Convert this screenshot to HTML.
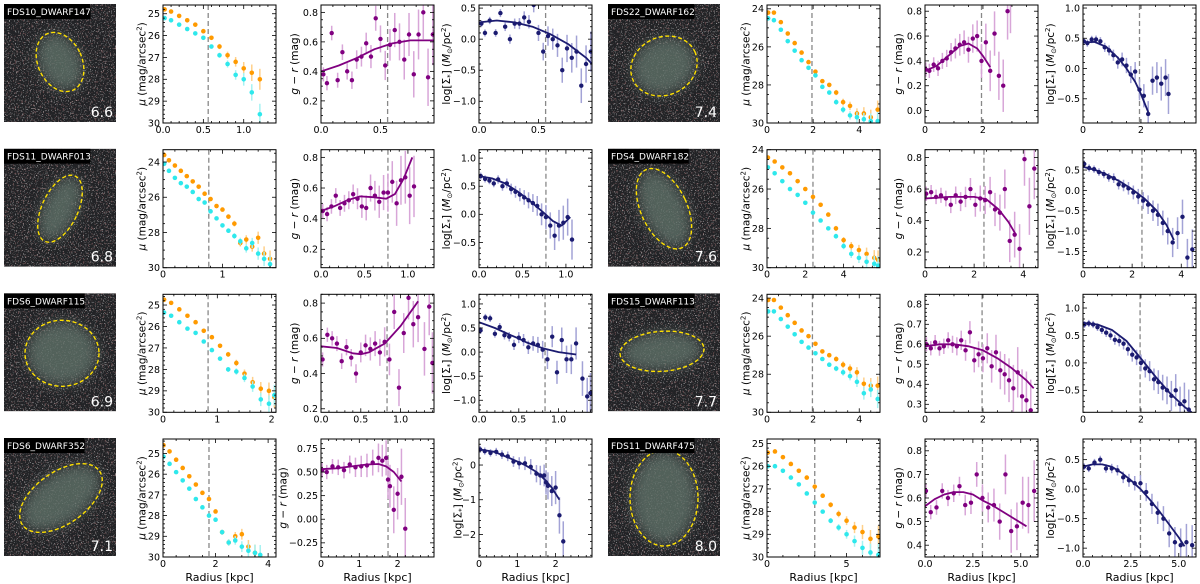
<!DOCTYPE html>
<html><head><meta charset="utf-8">
<style>
html,body{margin:0;padding:0;background:#fff;}
svg{display:block;}
text{font-family:"DejaVu Sans","Liberation Sans",sans-serif;}
</style></head>
<body>
<svg id="fig" xmlns="http://www.w3.org/2000/svg" width="1200" height="584" viewBox="0 0 1200 584">
<defs>
<filter id="noise" x="0" y="0" width="100%" height="100%">
<feTurbulence type="fractalNoise" baseFrequency="0.85" numOctaves="1" seed="3" result="t"/>
<feColorMatrix type="matrix" values="0 0 0 0 0.8  0 0 0 0 0.8  0 0 0 0 0.8  14 0 0 0 -8.6" in="t"/>
</filter>
<filter id="noise2" x="0" y="0" width="100%" height="100%">
<feTurbulence type="fractalNoise" baseFrequency="0.6" numOctaves="1" seed="7" result="t"/>
<feColorMatrix type="matrix" values="0 0 0 0 0.45  0 0 0 0 0.2  0 0 0 0 0.2  10 0 0 0 -6" in="t"/>
</filter>
<filter id="blur" x="-50%" y="-50%" width="200%" height="200%"><feGaussianBlur stdDeviation="6"/></filter>
</defs>
</svg>
<script>
const names=["FDS10_DWARF147","FDS11_DWARF013","FDS6_DWARF115","FDS6_DWARF352","FDS22_DWARF162","FDS4_DWARF182","FDS15_DWARF113","FDS11_DWARF475"];
const masses=["6.6","6.8","6.9","7.1","7.4","7.6","7.7","8.0"];
const rLimit=[0.56,0.77,0.83,1.75,1.95,2.4,1.97,3.0];
const muXMax=[1.4,1.9,2.08,4.3,4.9,5.9,4.9,7.1];
const muYTop=[24.6,23.3,24.5,24.3,23.8,24.0,23.8,24.8];
const muXTicks=[["0.0","0.5","1.0"],["0","1"],["0","1","2"],["0","2","4"],["0","2","4"],["0","2","4"],["0","2","4"],["0","5"]];
const muYTicks=[["25","26","27","28","29","30"],["24","26","28","30"],["25","26","27","28","29","30"],["25","26","27","28","29","30"],["24","26","28","30"],["24","26","28","30"],["24","26","28","30"],["25","26","27","28","29","30"]];
const prXMax=[0.95,1.3,1.42,2.95,3.9,4.6,3.9,5.9];
const prXTicks=[["0.0","0.5"],["0.0","0.5","1.0"],["0.0","0.5","1.0"],["0","1","2"],["0","2"],["0","2","4"],["0","2"],["0.0","2.5","5.0"]];
const grYRange=[[0.05,0.85],[0.08,0.85],[0.18,0.85],[-0.4,0.85],[-0.1,0.85],[0.1,0.85],[0.26,0.85],[0.35,0.85]];
const grYTicks=[["0.2","0.4","0.6","0.8"],["0.2","0.4","0.6","0.8"],["0.2","0.4","0.6","0.8"],["−0.25","0.00","0.25","0.50","0.75"],["0.0","0.2","0.4","0.6","0.8"],["0.2","0.4","0.6","0.8"],["0.3","0.4","0.5","0.6","0.7","0.8"],["0.4","0.5","0.6","0.7","0.8"]];
const sgYRange=[[-1.35,0.55],[-0.95,1.15],[-1.25,1.2],[-2.65,0.75],[-0.9,1.05],[-1.9,1.0],[-0.9,1.25],[-1.15,0.85]];
const sgYTicks=[["−1.0","−0.5","0.0","0.5"],["−0.5","0.0","0.5","1.0"],["−1.0","−0.5","0.0","0.5","1.0"],["−2","−1","0"],["−0.5","0.0","0.5","1.0"],["−1.5","−1.0","−0.5","0.0","0.5"],["−0.5","0.0","0.5","1.0"],["−1.0","−0.5","0.0","0.5"]];

const muR=[
[0.02,0.1,0.2,0.3,0.4,0.5,0.6,0.7,0.8,0.9,1.0,1.1,1.2],
[0.02,0.1,0.2,0.3,0.4,0.5,0.6,0.7,0.8,0.9,1.0,1.1,1.2,1.3,1.4,1.5,1.6,1.7,1.8],
[0.02,0.15,0.3,0.45,0.6,0.75,0.9,1.05,1.2,1.35,1.5,1.65,1.8,1.95,2.05],
[0.02,0.25,0.5,0.75,1.0,1.25,1.5,1.75,2.0,2.25,2.5,2.75,3.0,3.25,3.5,3.7],
[0.05,0.3,0.6,0.9,1.2,1.5,1.8,2.1,2.4,2.7,3.0,3.3,3.6,3.9,4.2,4.5,4.8],
[0.05,0.4,0.8,1.2,1.6,2.0,2.4,2.8,3.2,3.6,4.0,4.4,4.8,5.2,5.6,5.8],
[0.05,0.3,0.6,0.9,1.2,1.5,1.8,2.1,2.4,2.7,3.0,3.3,3.6,3.9,4.2,4.5,4.8],
[0.05,0.5,1.0,1.5,2.0,2.5,3.0,3.5,4.0,4.5,5.0,5.5,6.0,6.5,7.0]];
const muOrange=[
[24.8,24.9,25.1,25.3,25.5,25.8,26.1,26.5,26.9,27.2,27.5,27.7,28.0],
[23.6,23.9,24.2,24.5,24.8,25.1,25.4,25.8,26.1,26.5,26.7,27.1,27.5,28.6,28.4,28.8,28.3,29.2,29.5],
[24.75,24.9,25.2,25.5,25.8,26.2,26.5,26.9,27.3,27.7,28.2,28.6,28.9,29.0,29.3],
[24.6,24.9,25.3,25.7,26.1,26.5,26.9,27.2,27.8,28.8,29.3,29.0,28.9,29.5,29.8,30.0],
[24.2,24.2,24.7,25.3,25.8,26.3,26.8,27.3,27.8,28.0,28.4,28.9,29.1,29.5,29.5,29.7,29.3],
[24.4,24.6,24.9,25.2,25.6,26.0,26.4,26.8,27.3,28.0,28.6,28.9,29.1,29.3,29.5,29.6],
[24.1,24.1,24.5,24.9,25.3,25.7,26.0,26.4,26.8,27.0,27.2,27.5,27.7,27.9,28.5,28.6,28.6],
[25.4,25.35,25.6,25.9,26.2,26.5,26.9,27.3,27.7,28.1,28.4,28.7,28.9,29.2,29.1]];
const muCyan=[
[25.2,25.3,25.5,25.7,25.9,26.1,26.5,26.9,27.3,27.8,28.0,28.6,29.6],
[24.1,24.5,24.9,25.2,25.4,25.7,26.1,26.3,26.8,27.2,27.6,27.9,28.2,28.5,28.9,28.6,29.2,29.5,29.8],
[25.35,25.5,25.8,26.1,26.3,26.7,27.1,27.5,28.0,28.1,28.4,28.8,29.4,29.6,29.2],
[25.15,25.5,25.9,26.3,26.7,27.2,27.6,28.0,28.2,28.8,29.3,29.2,29.5,29.7,29.8,29.9],
[24.5,24.6,25.1,25.7,26.2,26.7,27.1,27.5,28.1,28.4,28.9,29.3,29.6,29.7,29.8,29.9,29.9],
[24.9,25.2,25.6,26.0,26.3,26.7,27.2,27.6,28.0,28.4,28.9,29.3,29.5,29.7,29.8,29.9],
[24.7,24.7,25.1,25.5,25.9,26.3,26.6,26.9,27.2,27.5,27.7,27.9,28.1,28.4,29.0,28.8,29.3],
[26.0,26.0,26.2,26.5,26.8,27.2,27.6,28.0,28.4,28.7,29.0,29.3,29.6,29.8,29.9]];

const prR=[
[0.02,0.05,0.09,0.14,0.18,0.22,0.26,0.3,0.34,0.38,0.42,0.46,0.5,0.54,0.58,0.62,0.66,0.7,0.74,0.78,0.82,0.86,0.9,0.94],
[0.02,0.07,0.12,0.17,0.22,0.27,0.32,0.37,0.42,0.47,0.52,0.57,0.62,0.67,0.72,0.77,0.82,0.87,0.92,0.97,1.02,1.07],
[0.02,0.08,0.14,0.2,0.26,0.32,0.38,0.44,0.5,0.56,0.62,0.68,0.74,0.8,0.86,0.92,0.98,1.04,1.1,1.16,1.22,1.3,1.36,1.4],
[0.03,0.15,0.3,0.45,0.6,0.75,0.9,1.05,1.2,1.35,1.5,1.6,1.7,1.75,1.8,1.9,2.0,2.1,2.2],
[0.03,0.15,0.3,0.45,0.6,0.75,0.9,1.05,1.2,1.35,1.5,1.65,1.8,1.95,2.1,2.25,2.4,2.55,2.7,2.85,2.95],
[0.05,0.25,0.45,0.65,0.85,1.05,1.25,1.45,1.65,1.85,2.05,2.25,2.45,2.65,2.85,3.05,3.25,3.45,3.65,3.85,4.05,4.25,4.45],
[0.05,0.2,0.35,0.5,0.65,0.8,0.95,1.1,1.25,1.4,1.55,1.7,1.85,2.0,2.15,2.3,2.45,2.6,2.75,2.9,3.05,3.2,3.35,3.5,3.65],
[0.05,0.3,0.6,0.9,1.2,1.5,1.8,2.1,2.4,2.7,3.0,3.3,3.6,3.9,4.2,4.5,4.8,5.1,5.4,5.7]];
const grVals=[
[0.38,0.32,0.66,0.34,0.53,0.40,0.34,0.48,0.50,0.59,0.50,0.76,0.62,0.44,0.58,0.68,0.60,0.48,0.65,0.38,0.65,0.80,0.36,0.65],
[0.45,0.43,0.48,0.55,0.47,0.50,0.52,0.56,0.53,0.48,0.47,0.60,0.55,0.51,0.57,0.57,0.64,0.50,0.65,0.67,0.55,0.61],
[0.48,0.62,0.60,0.57,0.47,0.55,0.49,0.40,0.52,0.56,0.54,0.57,0.52,0.58,0.48,0.75,0.32,0.63,0.83,0.68,0.72,0.54,0.78,0.46],
[0.52,0.50,0.56,0.55,0.52,0.58,0.55,0.56,0.57,0.60,0.65,0.62,0.65,0.42,0.35,0.10,0.27,0.45,-0.10],
[0.33,0.32,0.37,0.34,0.40,0.42,0.47,0.50,0.53,0.55,0.49,0.58,0.60,0.40,0.55,0.32,0.62,0.28,0.20,0.80,0.87],
[0.57,0.58,0.55,0.56,0.54,0.50,0.56,0.52,0.55,0.60,0.50,0.54,0.53,0.58,0.47,0.45,0.60,0.27,0.31,0.22,0.79,0.49,0.73],
[0.60,0.58,0.61,0.58,0.59,0.62,0.60,0.59,0.62,0.57,0.66,0.52,0.55,0.53,0.58,0.49,0.56,0.47,0.45,0.42,0.38,0.46,0.34,0.32,0.27],
[0.63,0.54,0.56,0.63,0.60,0.62,0.65,0.57,0.58,0.70,0.60,0.56,0.57,0.50,0.70,0.46,0.48,0.58,0.57,0.63]];
const sgVals=[
[0.25,0.1,0.3,0.1,0.42,0.2,0.0,0.25,0.25,0.35,0.28,0.55,0.1,-0.2,0.05,0.0,-0.1,-0.5,-0.15,-0.3,-0.2,-0.75,-0.4,-0.2],
[0.68,0.63,0.60,0.55,0.62,0.50,0.55,0.45,0.40,0.35,0.30,0.25,0.20,0.15,0.0,-0.05,-0.20,-0.38,-0.20,-0.15,-0.05,-0.45],
[0.45,0.72,0.70,0.38,0.52,0.35,0.32,0.15,0.30,0.25,0.10,0.18,0.15,0.05,-0.15,0.32,-0.42,0.25,-0.15,-0.15,0.18,-0.55,-0.92,-0.85],
[0.45,0.40,0.35,0.38,0.30,0.25,0.10,0.05,0.05,-0.05,-0.25,-0.30,-0.30,-0.50,-0.60,-0.75,-0.65,-1.45,-2.2],
[0.45,0.42,0.48,0.48,0.45,0.35,0.30,0.22,0.10,0.15,0.05,-0.10,-0.05,-0.35,-0.45,-0.75,-0.20,-0.15,-0.25,-0.15,-0.42],
[0.65,0.55,0.52,0.45,0.40,0.32,0.30,0.15,0.12,0.05,-0.05,-0.15,-0.25,-0.35,-0.50,-0.60,-0.80,-1.00,-1.28,-1.05,-0.65,-1.65,-1.45],
[0.70,0.72,0.70,0.65,0.60,0.55,0.50,0.42,0.40,0.35,0.25,0.15,0.10,0.0,-0.10,-0.15,-0.30,-0.35,-0.45,-0.50,-0.60,-0.50,-0.75,-0.70,-0.85],
[0.38,0.35,0.45,0.50,0.35,0.35,0.32,0.20,0.15,0.10,0.10,-0.05,-0.25,-0.40,-0.50,-0.75,-0.90,-0.95,-0.90,-0.95]];
const fitR=[
[0,0.15,0.3,0.45,0.6,0.75,0.9,0.95],
[0,0.15,0.3,0.45,0.6,0.75,0.85,0.95,1.05],
[0,0.2,0.4,0.5,0.6,0.8,1.0,1.22],
[0,0.4,0.8,1.2,1.5,1.7,1.9,2.1],
[0,0.4,0.8,1.2,1.5,1.8,2.0,2.25],
[0,0.5,1.0,1.5,2.0,2.5,3.0,3.4,3.7],
[0,0.5,1.0,1.5,2.0,2.5,3.0,3.5,3.75],
[0,0.5,1.0,1.5,2.0,2.5,3.0,3.5,4.0,4.5,5.0,5.3]];
const grFit=[
[0.40,0.44,0.49,0.55,0.59,0.61,0.61,0.61],
[0.45,0.48,0.52,0.545,0.54,0.53,0.56,0.66,0.80],
[0.555,0.545,0.515,0.51,0.52,0.57,0.67,0.81],
[0.53,0.54,0.56,0.58,0.585,0.56,0.50,0.40],
[0.32,0.36,0.44,0.52,0.54,0.50,0.44,0.35],
[0.54,0.545,0.55,0.55,0.55,0.535,0.47,0.39,0.31],
[0.59,0.60,0.60,0.59,0.57,0.53,0.48,0.42,0.38],
[0.565,0.595,0.615,0.625,0.625,0.615,0.59,0.57,0.545,0.52,0.495,0.48]];
const sgFit=[
[0.27,0.30,0.27,0.20,0.08,-0.08,-0.30,-0.40],
[0.68,0.64,0.55,0.40,0.22,0.02,-0.12,-0.20,-0.05],
[0.62,0.50,0.35,0.28,0.20,0.08,0.0,-0.05],
[0.45,0.38,0.20,0.0,-0.2,-0.40,-0.65,-1.0],
[0.43,0.44,0.36,0.18,0.0,-0.22,-0.42,-0.72],
[0.58,0.50,0.38,0.22,0.03,-0.20,-0.50,-0.85,-1.22],
[0.73,0.70,0.60,0.40,0.08,-0.25,-0.55,-0.80,-0.90],
[0.38,0.42,0.42,0.38,0.28,0.15,0.0,-0.18,-0.38,-0.60,-0.82,-0.97]];
const ellipses=[[56,58,22,31,-25],[56,60,18,36,25],[58,60,37,33,0],[57,60,47,26,-35],[56,62,34,29,-25],[56,60,23,43,-25],[54,58,42,20,-4],[56,60,34,48,0]];

const NS="http://www.w3.org/2000/svg";
const svg=document.getElementById('fig');
function mk(tag,attrs,name,parent){
  const el=document.createElementNS(NS,tag);
  for(const k in attrs) el.setAttribute(k,attrs[k]);
  
  
  (parent||svg).appendChild(el);
  return el;
}
const num=s=>parseFloat(s.replace('−','-'));
const rowTop=[5,149.7,294.3,439], PH=118, PW=113, IW=112;
let clipId=0;

function minorStep(step){
  const e=Math.pow(10,Math.floor(Math.log10(step)+1e-9));
  const m=Math.round(step/e*100)/100;
  return step/((m===2)?4:5);
}

function axes(g,px,py,xr,yr,xt,yt,showX,ylab){
  const sx=v=>px+(v-xr[0])/(xr[1]-xr[0])*PW;
  const sy=v=>py+(yr[1]-v)/(yr[1]-yr[0])*PH;
  const cid='c'+(clipId++);
  const cp=mk('clipPath',{id:cid},'clip',g);
  mk('rect',{x:px,y:py,width:PW,height:PH},'clip-rect',cp);
  const plot=mk('g',{'clip-path':'url(#'+cid+')'},'plot-area',g);
  const tg=mk('g',{stroke:'#000','stroke-width':0.8},'ticks',g);
  const xv=xt.map(num), yv=yt.map(num);
  const xs=xv.length>1?xv[1]-xv[0]:xv[0]||1, ys=yv[1]-yv[0];
  const xm=minorStep(xs), ym=minorStep(ys);
  for(let v=Math.ceil(xr[0]/xm)*xm; v<=xr[1]+1e-9; v+=xm){
    const X=sx(v); const major=xv.some(t=>Math.abs(t-v)<xm/3); const L=major?4:2;
    mk('line',{x1:X,y1:py+PH,x2:X,y2:py+PH-L},'x-tick',tg);
    mk('line',{x1:X,y1:py,x2:X,y2:py+L},'x-tick-top',tg);
  }
  const ylo=Math.min(yr[0],yr[1]), yhi=Math.max(yr[0],yr[1]);
  for(let v=Math.ceil(ylo/ym)*ym; v<=yhi+1e-9; v+=ym){
    const Y=sy(v); const major=yv.some(t=>Math.abs(t-v)<ym/3); const L=major?4:2;
    mk('line',{x1:px,y1:Y,x2:px+L,y2:Y},'y-tick',tg);
    mk('line',{x1:px+PW,y1:Y,x2:px+PW-L,y2:Y},'y-tick-right',tg);
  }
  xt.forEach(s=>{const t=mk('text',{x:sx(num(s)),y:py+PH+10,'font-size':9.5,'text-anchor':'middle'},'x-tick-label',g);t.textContent=s;});
  let mw=0;
  yt.forEach(s=>{const t=mk('text',{x:px-3,y:sy(num(s))+3.4,'font-size':9.5,'text-anchor':'end'},'y-tick-label',g);t.textContent=s;mw=Math.max(mw,s.length);});
  mk('rect',{x:px,y:py,width:PW,height:PH,fill:'none',stroke:'#000','stroke-width':1},'axes-frame',g);
  const lx=px-mw*5.7-6, ly=py+PH/2;
  const yl=mk('text',{x:lx,y:ly,'font-size':10.5,'text-anchor':'middle',transform:`rotate(-90 ${lx} ${ly})`},'y-axis-title',g);
  yl.innerHTML=ylab;
  if(showX){const t=mk('text',{x:px+PW/2,y:py+PH+24,'font-size':11,'text-anchor':'middle'},'x-axis-title',g);t.textContent='Radius [kpc]';}
  return {sx,sy,plot};
}

for(let i=0;i<8;i++){
  const col=Math.floor(i/4), row=i%4;
  const ox=col*604, py=rowTop[row];
  const G=mk('g',{},'galaxy-row-'+names[i].toLowerCase().replace('_','-'));
  const ix=4+ox, iy=py-1;
  const ig=mk('g',{},'galaxy-image',G);
  const icid='ic'+i;
  const icp=mk('clipPath',{id:icid},'image-clip',ig);
  mk('rect',{x:ix,y:iy,width:IW,height:PH},'image-clip-rect',icp);
  const inner=mk('g',{'clip-path':`url(#${icid})`},'image-content',ig);
  mk('rect',{x:ix,y:iy,width:IW,height:PH,fill:'#222326'},'sky-background',inner);
  mk('rect',{x:ix,y:iy,width:IW,height:PH,fill:'#000',filter:'url(#noise2)',opacity:0.5},'sky-red-noise',inner);
  mk('rect',{x:ix,y:iy,width:IW,height:PH,fill:'#000',filter:'url(#noise)',opacity:0.55},'sky-speckles',inner);
  const e=ellipses[i];
  mk('ellipse',{cx:ix+e[0],cy:iy+e[1],rx:e[2]*0.95,ry:e[3]*0.95,fill:'#5f6f68','fill-opacity':0.8,filter:'url(#blur)',transform:`rotate(${e[4]} ${ix+e[0]} ${iy+e[1]})`},'galaxy-glow',inner);
  mk('ellipse',{cx:ix+e[0],cy:iy+e[1],rx:e[2],ry:e[3],fill:'none',stroke:'#ffe000','stroke-width':1.4,'stroke-dasharray':'4 2.5',transform:`rotate(${e[4]} ${ix+e[0]} ${iy+e[1]})`},'aperture-ellipse',inner);
  mk('rect',{x:ix,y:iy,width:names[i].length*5.75+6,height:15,fill:'#000'},'name-label-bg',inner);
  const nt=mk('text',{x:ix+3,y:py+10,'font-size':9,fill:'#fff'},'galaxy-name',inner); nt.textContent=names[i];
  const mt=mk('text',{x:ix+IW-3,y:py+PH-6,'font-size':14,fill:'#fff','text-anchor':'end'},'stellar-mass',inner); mt.textContent=masses[i];

  const showX=row===3;
  const p1=mk('g',{},'mu-profile-panel',G);
  const A=axes(p1,163+ox,py,[0,muXMax[i]],[30,muYTop[i]],muXTicks[i],muYTicks[i],showX,'<tspan font-style="italic">μ</tspan> (mag/arcsec<tspan dy="-4" font-size="7">2</tspan><tspan dy="4">)</tspan>');
  mk('line',{x1:A.sx(rLimit[i]),x2:A.sx(rLimit[i]),y1:py,y2:py+PH,stroke:'#888','stroke-width':1.3,'stroke-dasharray':'5 3'},'radius-limit-line',A.plot);
  const nmu=muR[i].length;
  [[muOrange[i],'#ff9a00','#ffd08a','orange-band'],[muCyan[i],'#2ee8ec','#a6f2f2','cyan-band']].forEach(([vals,c,ce,nm])=>{
    vals.forEach((v,j)=>{
      const f=j/(nmu-1); const err=0.03+0.45*f*f*f;
      mk('line',{x1:A.sx(muR[i][j]),x2:A.sx(muR[i][j]),y1:A.sy(v-err),y2:A.sy(v+err),stroke:ce,'stroke-width':1.5},nm+'-errorbar',A.plot);
    });
    vals.forEach((v,j)=>{
      mk('circle',{cx:A.sx(muR[i][j]),cy:A.sy(v),r:2.3,fill:c},nm+'-point',A.plot);
    });
  });
  const p2=mk('g',{},'color-profile-panel',G);
  const B=axes(p2,321+ox,py,[0,prXMax[i]],grYRange[i],prXTicks[i],grYTicks[i],showX,'<tspan font-style="italic">g</tspan> − <tspan font-style="italic">r</tspan> (mag)');
  mk('line',{x1:B.sx(rLimit[i]),x2:B.sx(rLimit[i]),y1:py,y2:py+PH,stroke:'#888','stroke-width':1.3,'stroke-dasharray':'5 3'},'radius-limit-line',B.plot);
  const span2=grYRange[i][1]-grYRange[i][0], n2=prR[i].length;
  grVals[i].forEach((v,j)=>{const f=j/(n2-1); const err=span2*(0.06+0.2*f*f);
    mk('line',{x1:B.sx(prR[i][j]),x2:B.sx(prR[i][j]),y1:B.sy(v-err),y2:B.sy(v+err),stroke:'#d8a6d8','stroke-width':1.5},'color-errorbar',B.plot);});
  grVals[i].forEach((v,j)=>{mk('circle',{cx:B.sx(prR[i][j]),cy:B.sy(v),r:2.2,fill:'#800080'},'color-point',B.plot);});
  mk('path',{d:fitR[i].map((r,j)=>(j?'L':'M')+B.sx(r).toFixed(1)+' '+B.sy(grFit[i][j]).toFixed(1)).join(' '),fill:'none',stroke:'#800080','stroke-width':1.8,'stroke-linejoin':'round'},'color-fit-curve',B.plot);
  const p3=mk('g',{},'mass-density-panel',G);
  const C=axes(p3,479+ox,py,[0,prXMax[i]],sgYRange[i],prXTicks[i],sgYTicks[i],showX,'log[Σ<tspan dy="2" font-size="7">*</tspan><tspan dy="-2">] (</tspan><tspan font-style="italic">M</tspan><tspan dy="2" font-size="7">⊙</tspan><tspan dy="-2">/pc</tspan><tspan dy="-4" font-size="7">2</tspan><tspan dy="4">)</tspan>');
  mk('line',{x1:C.sx(rLimit[i]),x2:C.sx(rLimit[i]),y1:py,y2:py+PH,stroke:'#888','stroke-width':1.3,'stroke-dasharray':'5 3'},'radius-limit-line',C.plot);
  const span3=sgYRange[i][1]-sgYRange[i][0];
  sgVals[i].forEach((v,j)=>{const f=j/(n2-1); const err=span3*(0.03+0.14*f*f);
    mk('line',{x1:C.sx(prR[i][j]),x2:C.sx(prR[i][j]),y1:C.sy(v-err),y2:C.sy(v+err),stroke:'#a3a3d6','stroke-width':1.5},'density-errorbar',C.plot);});
  sgVals[i].forEach((v,j)=>{mk('circle',{cx:C.sx(prR[i][j]),cy:C.sy(v),r:2.2,fill:'#1b1b70'},'density-point',C.plot);});
  mk('path',{d:fitR[i].map((r,j)=>(j?'L':'M')+C.sx(r).toFixed(1)+' '+C.sy(sgFit[i][j]).toFixed(1)).join(' '),fill:'none',stroke:'#1b1b70','stroke-width':1.8,'stroke-linejoin':'round'},'density-fit-curve',C.plot);
}
</script>
</body></html>
